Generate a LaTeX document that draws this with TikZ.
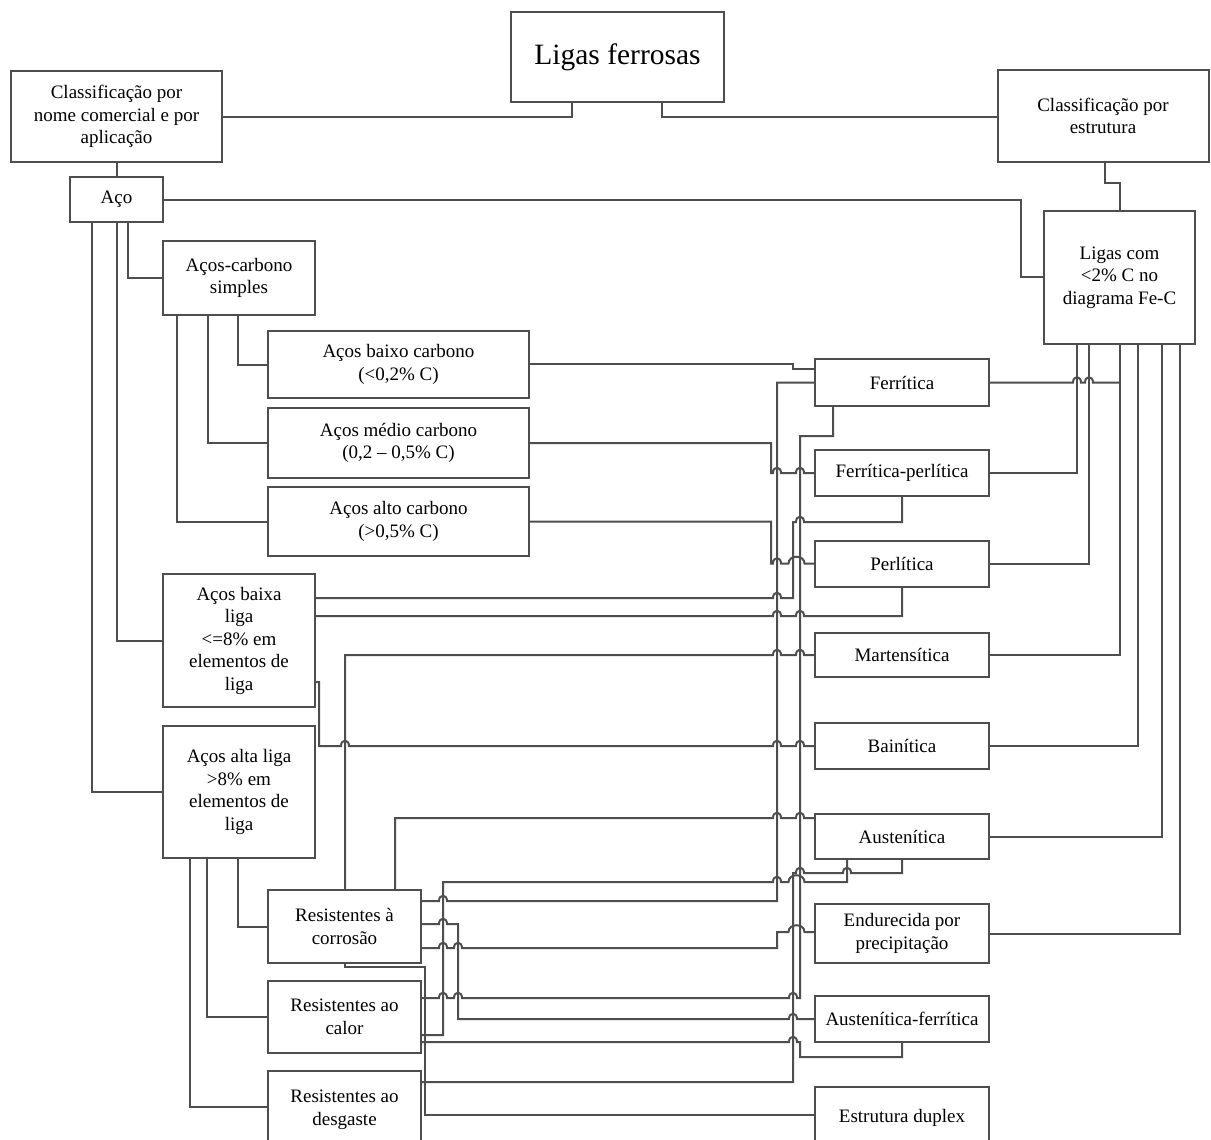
\documentclass[tikz,border=0pt]{standalone}
\usepackage{fontspec}
\setmainfont{Liberation Serif}
\definecolor{lc}{RGB}{78,78,78}
\newcommand\jmp[2]{-- ({#1-4},#2) .. controls ({#1-4},{#2-7}) and ({#1+4},{#2-7}) .. ({#1+4},#2)}
\newcommand\jmpd[2]{-- ({#1-8},#2) .. controls ({#1-8},{#2-9}) and ({#1+8},{#2-9}) .. ({#1+8},#2)}
\tikzset{
  box/.style={draw=lc, line width=2pt, fill=white, rectangle, align=center, inner sep=0pt,
    font=\fontsize{19}{22.5}\selectfont},
  ln/.style={draw=lc, line width=2pt}
}
\begin{document}
\begin{tikzpicture}[x=1pt,y=-1pt]
\useasboundingbox (0,0) rectangle (1211,1140);
\clip (0,0) rectangle (1211,1140);
\fill[white] (0,0) rectangle (1211,1140);
% ---- boxes
\node[box,minimum width=213pt,minimum height=90pt,font=\fontsize{29.5}{34}\selectfont] (ligas) at (617.5,57) {Ligas ferrosas};
\node[box,minimum width=211pt,minimum height=91pt] (class) at (116.5,116.5) {Classificação por\\nome comercial e por\\aplicação};
\node[box,minimum width=211pt,minimum height=92pt] (estr) at (1103,116) {Classificação por\\estrutura};
\node[box,minimum width=93pt,minimum height=45pt] (aco) at (116.5,199.5) {Aço};
\node[box,minimum width=151pt,minimum height=133pt] (ligascom) at (1119.5,277.5) {Ligas com\\<2\% C no\\diagrama Fe-C};
\node[box,minimum width=152pt,minimum height=74pt] (acs) at (239,278) {Aços-carbono\\simples};
\node[box,minimum width=261pt,minimum height=67pt] (baixo) at (398.5,364.5) {Aços baixo carbono\\(<0,2\% C)};
\node[box,minimum width=261pt,minimum height=70pt] (medio) at (398.5,443) {Aços médio carbono\\(0,2 – 0,5\% C)};
\node[box,minimum width=261pt,minimum height=69pt] (alto) at (398.5,521.5) {Aços alto carbono\\(>0,5\% C)};
\node[box,minimum width=152pt,minimum height=133pt] (baixa) at (239,640.5) {Aços baixa\\liga\\<=8\% em\\elementos de\\liga};
\node[box,minimum width=152pt,minimum height=132pt] (alta) at (239,792) {Aços alta liga\\>8\% em\\elementos de\\liga};
\node[box,minimum width=153pt,minimum height=73pt] (corr) at (344.5,926.5) {Resistentes à\\corrosão};
\node[box,minimum width=153pt,minimum height=72pt] (calor) at (344.5,1017) {Resistentes ao\\calor};
\node[box,minimum width=153pt,minimum height=78pt] (desg) at (344.5,1110) {Resistentes ao\\desgaste};
\node[box,minimum width=174pt,minimum height=47pt] (ferr) at (902,382.5) {Ferrítica};
\node[box,minimum width=174pt,minimum height=46pt] (fp) at (902,473) {Ferrítica-perlítica};
\node[box,minimum width=174pt,minimum height=46pt] (perl) at (902,563.5) {Perlítica};
\node[box,minimum width=174pt,minimum height=44pt] (mart) at (902,655) {Martensítica};
\node[box,minimum width=174pt,minimum height=46pt] (bain) at (902,746) {Bainítica};
\node[box,minimum width=174pt,minimum height=45pt] (aust) at (902,836.5) {Austenítica};
\node[box,minimum width=174pt,minimum height=59pt] (endur) at (902,933.5) {Endurecida por\\precipitação};
\node[box,minimum width=174pt,minimum height=46pt] (af) at (902,1019) {Austenítica-ferrítica};
\node[box,minimum width=174pt,minimum height=62pt] (duplex) at (902,1118) {Estrutura duplex};
% ---- top connectors
\draw[ln] (class.east) -- (572,116.5) -- (572,0 |- ligas.south);
\draw[ln] (ligas.south -| 662,0) -- (662,116.5) -- (estr.west |- 0,116.5);
\draw[ln] (class.south) -- (aco.north);
\draw[ln] (aco.east) -- (1021,199.5) -- (1021,277) -- (ligascom.west |- 0,277);
\draw[ln] (estr.south -| 1105,0) -- (1105,183) -- (1120,183) -- (ligascom.north -| 1120,0);
\draw[ln] (aco.south -| 128,0) -- (128,278) -- (acs.west);
\draw[ln] (aco.south -| 117,0) -- (117,640.5) -- (baixa.west);
\draw[ln] (aco.south -| 92,0) -- (92,792) -- (alta.west);
\draw[ln] (acs.south -| 238,0) -- (238,364.5) -- (baixo.west);
\draw[ln] (acs.south -| 208,0) -- (208,443) -- (medio.west);
\draw[ln] (acs.south -| 177,0) -- (177,521.5) -- (alto.west);
\draw[ln] (alta.south -| 238,0) -- (238,926.5) -- (corr.west);
\draw[ln] (alta.south -| 207,0) -- (207,1017) -- (calor.west);
\draw[ln] (alta.south -| 190,0) -- (190,1107) -- (desg.west |- 0,1107);
% ---- structure to Ligas com
\draw[ln] (ligascom.south -| 1120,0) -- (1120,655) -- (mart.east);
\draw[ln] (ferr.east) \jmp{1077}{382.5} \jmp{1089}{382.5} -- (1120,382.5);
\draw[ln] (fp.east) -- (1077,473) -- (ligascom.south -| 1077,0);
\draw[ln] (perl.east) -- (1089,563.5) -- (ligascom.south -| 1089,0);
\draw[ln] (bain.east) -- (1138,746) -- (ligascom.south -| 1138,0);
\draw[ln] (aust.east) -- (1162,836.5) -- (ligascom.south -| 1162,0);
\draw[ln] (endur.east) -- (1180,933.5) -- (ligascom.south -| 1180,0);
% ---- middle connectors
\draw[ln] (baixo.east |- 0,364) -- (793,364) -- (793,369) -- (ferr.west |- 0,369);
\draw[ln] (medio.east) -- (771,443) -- (771,473) \jmp{777}{473} \jmp{800}{473} -- (fp.west);
\draw[ln] (alto.east) -- (771,521.5) -- (771,563.5) \jmp{777}{563.5} \jmpd{796.5}{563.5} -- (perl.west);
\draw[ln] (corr.east |- 0,901) \jmp{443}{901} -- (777,901) -- (777,382.5) -- (ferr.west);
\draw[ln] (calor.east |- 0,998) \jmp{443}{998} \jmp{458}{998} \jmp{793}{998} -- (800,998) -- (800,436) -- (833,436) -- (833,0 |- ferr.south);
\draw[ln] (baixa.east |- 0,598) \jmp{777}{598} -- (793,598) -- (793,522) \jmp{800}{522} -- (902,522) -- (fp.south);
\draw[ln] (baixa.east |- 0,616) \jmp{777}{616} \jmp{800}{616} -- (902,616) -- (perl.south);
\draw[ln] (corr.north -| 345,0) -- (345,655) \jmp{777}{655} \jmp{800}{655} -- (mart.west);
\draw[ln] (baixa.east |- 0,682) -- (319,682) -- (319,746) \jmp{345}{746} \jmp{777}{746} \jmp{800}{746} -- (bain.west);
\draw[ln] (corr.north -| 395,0) -- (395,818) \jmp{777}{818} \jmp{800}{818} -- (aust.west |- 0,818);
% ---- bottom connectors
\draw[ln] (calor.east |- 0,1035) -- (443,1035) -- (443,882) \jmp{777}{882} \jmpd{796.5}{882} -- (847,882) -- (aust.south -| 847,0);
\draw[ln] (corr.east |- 0,924) \jmp{443}{924} -- (458,924) -- (458,1019) \jmp{793}{1019} -- (af.west);
\draw[ln] (corr.east |- 0,948) \jmp{443}{948} \jmp{458}{948} -- (777,948) -- (777,932) \jmpd{796.5}{932} -- (endur.west |- 0,932);
\draw[ln] (calor.east |- 0,1042) \jmp{793}{1042} -- (800,1042) -- (800,1057) -- (902,1057) -- (af.south);
\draw[ln] (desg.east |- 0,1082) -- (793,1082) -- (793,873) \jmp{800}{873} \jmp{847}{873} -- (902,873) -- (aust.south);
\draw[ln] (corr.south -| 345,0) -- (345,967) -- (425,967) -- (425,1115) -- (duplex.west |- 0,1115);
\end{tikzpicture}
\end{document}
